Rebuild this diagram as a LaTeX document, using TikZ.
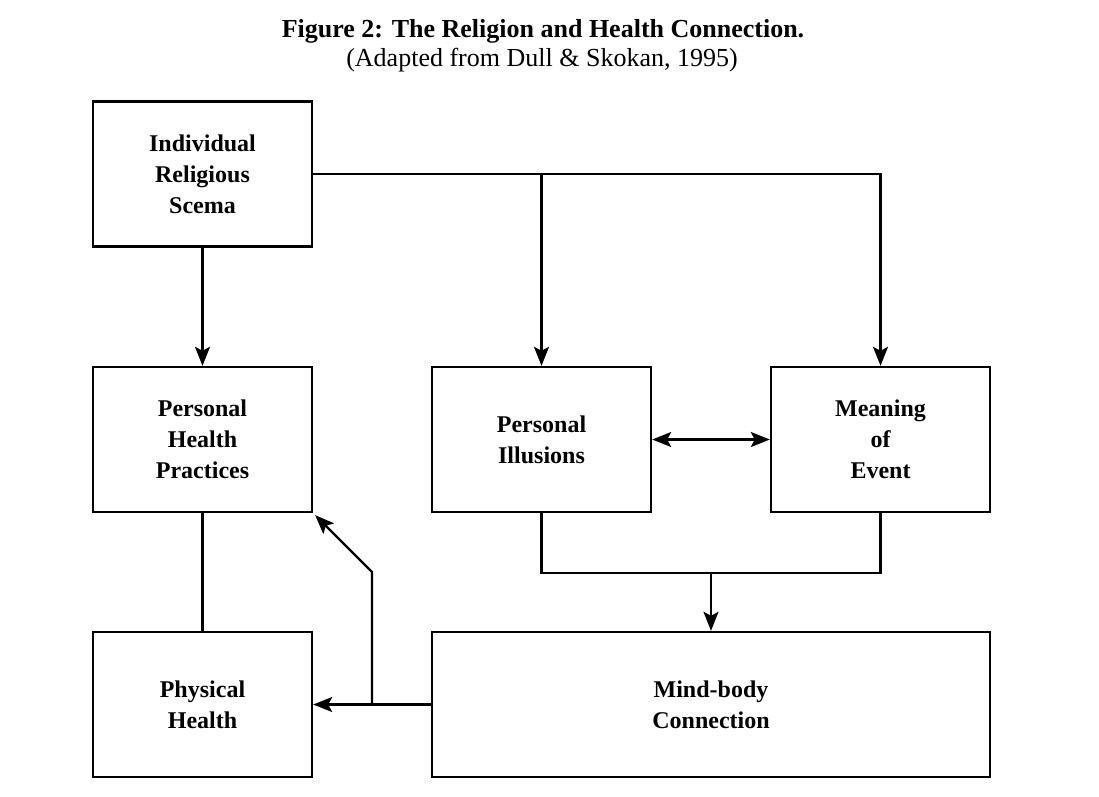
\documentclass[tikz,border=0pt]{standalone}
\usepackage{fontspec}
\setmainfont{Liberation Serif}
\usetikzlibrary{arrows.meta,calc}
\begin{document}
\begin{tikzpicture}[x=1pt,y=-1pt,
  box/.style={draw,line width=2.4pt,minimum width=219pt,minimum height=145pt,align=center,inner sep=0pt,
    font=\bfseries\fontsize{24}{31}\selectfont},
  conn/.style={line width=2.2pt},
  arr/.style={conn,-{Stealth[length=19pt,width=15pt,inset=4pt]}},
  darr/.style={conn,{Stealth[length=19pt,width=15pt,inset=4pt]}-{Stealth[length=19pt,width=15pt,inset=4pt]}}]
\useasboundingbox (0,0) rectangle (1099,796);
\node[font=\bfseries\fontsize{26}{30}\selectfont] (title) at (543,31) {Figure 2: The Religion and Health Connection.};
\node[font=\fontsize{26}{30}\selectfont] (sub) at (542,60) {(Adapted from Dull \& Skokan, 1995)};
\node[box] (irs) at (202.5,174) {Individual\\Religious\\Scema};
\node[box] (php) at (202.5,439.5) {Personal\\Health\\Practices};
\node[box] (pi) at (541.5,439.5) {Personal\\Illusions};
\node[box] (me) at (880.5,439.5) {Meaning\\of\\Event};
\node[box] (ph) at (202.5,704.5) {Physical\\Health};
\node[box,minimum width=558pt] (mb) at (711,704.5) {Mind-body\\Connection};
% top connectors
\draw[arr] (irs.east) -- (irs.east -| me.north) -- (me.north);
\draw[arr] (irs.east -| pi.north) -- (pi.north);
\draw[arr] (irs.south) -- (php.north);
\draw[darr] (pi.east) -- (me.west);
% bottom merge
\coordinate (jl) at ($(pi.south)+(0,60)$);
\draw[conn] (pi.south) -- (jl) -| (me.south);
\draw[arr] (jl -| mb.north) -- (mb.north);
\draw[conn] (php.south) -- (ph.north);
\draw[arr] (mb.west) -- (ph.east);
\coordinate (k) at (372,704.5);
\coordinate (k2) at (372,572);
\draw[arr] (k) -- (k2) -- ($(php.south east)+(2,2)$);
\end{tikzpicture}
\end{document}
